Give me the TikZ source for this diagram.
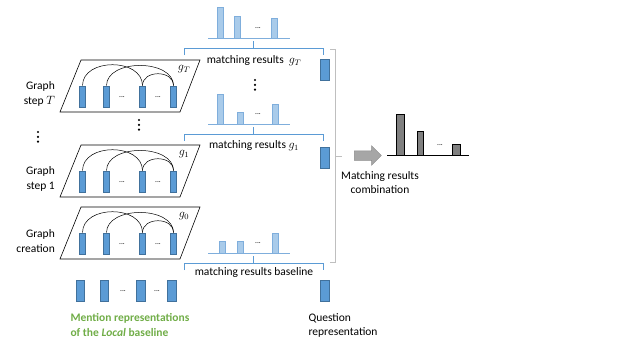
\documentclass[tikz,border=0pt]{standalone}
\usepackage{fontspec}
\setmainfont{Carlito}
\usepackage{xcolor}
\definecolor{BarBlue}{HTML}{5B9BD5}
\definecolor{BarBorder}{HTML}{41719C}
\definecolor{HistFill}{HTML}{A9CBEA}
\definecolor{HistBorder}{HTML}{7FAEDC}
\definecolor{BraceBlue}{HTML}{5B9BD5}
\definecolor{MentionGreen}{HTML}{70AD47}
\definecolor{BracketGray}{HTML}{BFBFBF}
\definecolor{ArrowGray}{HTML}{A6A6A6}
\definecolor{ArrowBorder}{HTML}{8C8C8C}
\definecolor{CombGray}{HTML}{808080}
\usepackage{tikz}
\usetikzlibrary{shapes.arrows}

\begin{document}
\begin{tikzpicture}[x=1pt, y=-1pt,
  font=\fontsize{11.5}{14.5}\selectfont,
  mbar/.style={rectangle, draw=BarBorder, fill=BarBlue, line width=0.6pt,
               minimum width=6pt, minimum height=21pt, inner sep=0pt},
  qbar/.style={mbar, minimum width=8.5pt},
  layer/.style={draw=black, line width=0.6pt},
  edgearc/.style={draw=black, line width=0.5pt},
  steplbl/.style={align=right, anchor=east, inner sep=1pt},
  hbar/.style={draw=HistBorder, fill=HistFill, line width=0.5pt},
  haxis/.style={draw=HistBorder, line width=0.8pt},
  brace/.style={draw=BraceBlue, line width=0.7pt},
  hdots/.style={font=\fontsize{7.5}{7.5}\selectfont, inner sep=0pt},
]
\useasboundingbox (0,0) rectangle (640,362);

\foreach \n/\y/\lbl in {T/60/{Graph\\step $T$}, 1/145/{Graph\\step 1}, 0/207/{Graph\\creation}} {
  \draw[layer] (81,\y) -- (200,\y) -- (180,\y+52) -- (60,\y+52) -- cycle;
  \node[mbar] (b\n-1) at (82.5,\y+36.5) {};
  \node[mbar] (b\n-2) at (106.5,\y+36.5) {};
  \node[mbar] (b\n-3) at (142.5,\y+36.5) {};
  \node[mbar] (b\n-4) at (173.5,\y+36.5) {};
  \node[hdots] (d\n-1) at (122,\y+37) {...};
  \node[hdots] (d\n-2) at (158,\y+37) {...};
  \draw[edgearc] (b\n-1.north) .. controls +(0,-28) and +(0,-28) .. (b\n-3.north);
  \draw[edgearc] (b\n-2.north) .. controls +(0,-27) and +(0,-27) .. (b\n-4.north);
  \draw[edgearc] (b\n-3.north) .. controls +(0,-16) and +(0,-16) .. (b\n-4.north);
  \node (g\n) at (184,\y+9) {$g_{\n}$};
  \node[steplbl] (s\n) at (56,\y+34) {\lbl};
}
\foreach \vx/\vy in {139/120, 38/132, 255/80}
  \foreach \i in {0,1,2}
    \fill (\vx,\vy+\i*4.8) circle (1.2);

\node[qbar] (m1) at (80.5,290.5) {};
\node[qbar] (m2) at (104.5,290.5) {};
\node[qbar] (m3) at (141,290.5) {};
\node[qbar] (m4) at (172,290.5) {};
\node[hdots] (md1) at (123,291) {...};
\node[hdots] (md2) at (157,291) {...};
\node[anchor=north west, align=left, text=MentionGreen, font=\fontsize{11.5}{14.5}\selectfont\bfseries]
  (mention) at (67,310) {Mention representations\\of the \textit{Local} baseline};

\node[qbar] (qT) at (325,70) {};
\node[qbar] (q1) at (325,158) {};
\node[qbar] (qb) at (325,290.5) {};
\node[anchor=north west, align=left] (question) at (305,310) {Question\\representation};

\foreach \k/\hb/\xa/\ha/\xb/\hbb/\xc/\hc/\ly/\txt in {
    T/38/217/31/234/22/271/20/61/{matching results \ $g_T$},
    1/124/217/30/237/12/272/20/146/{matching results $g_1$},
    b/253/219/12/237/12/272/20/272/{matching results baseline}} {
  \draw[hbar] (\xa,\hb) rectangle ++(6.5,-\ha);
  \draw[hbar] (\xb,\hb) rectangle ++(6.5,-\hbb);
  \draw[hbar] (\xc,\hb) rectangle ++(6.5,-\hc);
  \draw[haxis] (208,\hb) -- (290,\hb);
  \node[hdots] (hd\k) at (258,\hb-10) {...};
  \draw[brace] (184,\hb+17) -- (184,\hb+10) -- (323,\hb+10) -- (323,\hb+17);
  \draw[brace] (253.5,\hb+10) -- (253.5,\hb+3);
  \node (r\k) at (254,\ly) {\txt};
}

\draw[draw=BracketGray, line width=0.8pt] (330,49) -- (335,49) -- (335,262) -- (330,262);
\draw[draw=BracketGray, line width=0.8pt] (335,156) -- (342,156);

\node[single arrow, draw=ArrowBorder, fill=ArrowGray, line width=0.5pt,
      minimum height=27pt, minimum width=19pt, single arrow head extend=5pt,
      inner sep=0pt, inner ysep=4.5pt] (comb-arrow) at (365.5,155.5) {};

\draw[draw=black, fill=CombGray, line width=0.6pt] (396,155) rectangle ++(8,-41);
\draw[draw=black, fill=CombGray, line width=0.6pt] (417,155) rectangle ++(6.5,-24);
\draw[draw=black, fill=CombGray, line width=0.6pt] (452,155) rectangle ++(8,-11);
\draw[draw=black, line width=0.8pt] (387,155) -- (469,155);
\node[hdots] (cd) at (440,145) {...};
\node[align=center] (comb) at (380,182.5) {Matching results\\combination};
\end{tikzpicture}
\end{document}
